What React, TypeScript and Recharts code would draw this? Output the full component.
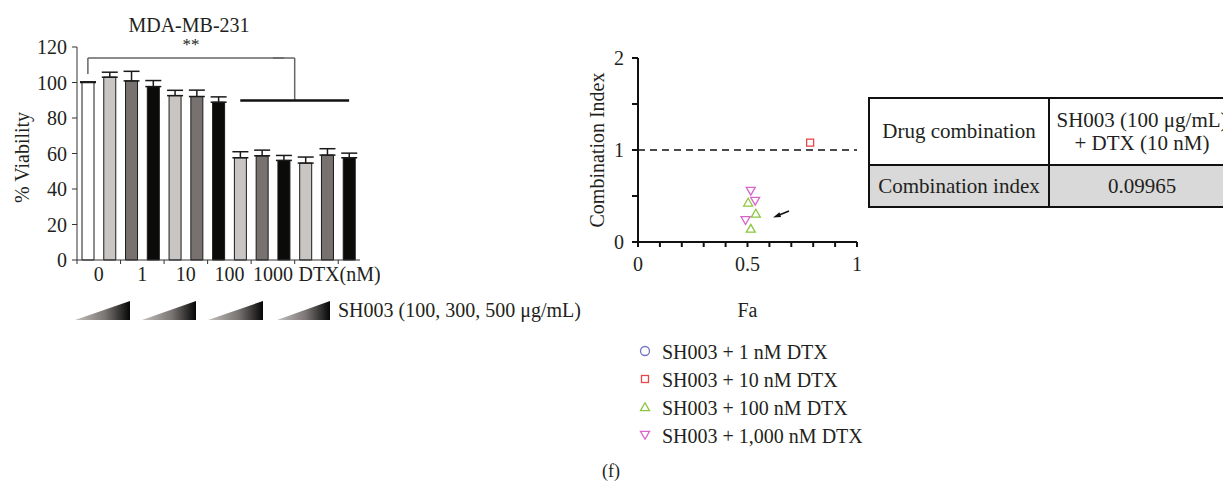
import React from 'react';
import {
  BarChart, Bar, Cell, ErrorBar, XAxis, YAxis, ReferenceLine,
  ScatterChart, Scatter,
} from 'recharts';

const FONT = "'Liberation Serif', 'DejaVu Serif', serif";
const INK = '#231f20';

// viability panel
const barNames = ['ctrl', 'a100', 'a300', 'a500', 'b100', 'b300', 'b500', 'c100', 'c300', 'c500', 'd100', 'd300', 'd500'];
const viability = [100, 103, 100.9, 97.7, 92.6, 92.1, 88.9, 57.6, 58.7, 56.1, 54.6, 59.1, 57.6];
const viabilitySem = [0.4, 2.8, 5.4, 3.4, 3, 3.6, 3, 3.4, 3.2, 2.8, 3.4, 3.6, 2.6];
const barColors = ['#ffffff', '#c9c5c3', '#77716f', '#0b0b09', '#c9c5c3', '#77716f', '#0b0b09', '#c9c5c3', '#77716f', '#0b0b09', '#c9c5c3', '#77716f', '#0b0b09'];
const doseLabels = ['0', '1', '10', '100', '1000', 'DTX(nM)'];
const viabilityTicks = [0, 20, 40, 60, 80, 100, 120];

// combination index panel
const ci1nM: { fa: number; ci: number }[] = [];
const ci10nM = [{ fa: 0.786, ci: 1.08 }];
const ci100nM = [{ fa: 0.503, ci: 0.43 }, { fa: 0.538, ci: 0.31 }, { fa: 0.515, ci: 0.146 }];
const ci1000nM = [{ fa: 0.515, ci: 0.555 }, { fa: 0.535, ci: 0.446 }, { fa: 0.491, ci: 0.236 }];
const faTicks = [0, 0.1, 0.2, 0.3, 0.4, 0.5, 0.6, 0.7, 0.8, 0.9, 1];
const ciTicks = [0, 0.5, 1, 1.5, 2];

const legendItems = [
  { label: 'SH003 + 1 nM DTX', kind: 'circle', color: '#7272c9' },
  { label: 'SH003 + 10 nM DTX', kind: 'square', color: '#e8474a' },
  { label: 'SH003 + 100 nM DTX', kind: 'up', color: '#8cc63f' },
  { label: 'SH003 + 1,000 nM DTX', kind: 'down', color: '#d766c8' },
];

const barData = barNames.map((name, i) => ({
  name,
  v: viability[i],
  err: [0, viabilitySem[i]],
}));

const PLOT_W = 283;
const BAND = PLOT_W / barNames.length;

const VertLabel = (props: any) => {
  const { viewBox, value, cx, dy = 0 } = props;
  const cy = viewBox.y + viewBox.height / 2 + dy;
  return (
    <text x={cx} y={cy} transform={`rotate(-90 ${cx} ${cy})`} textAnchor="middle"
      dominantBaseline="central" fontSize={20} fontFamily={FONT} fill={INK}>
      {value}
    </text>
  );
};

// ticks every two bars, dose labels centred between them
const DoseTick = (props: any) => {
  const { x, y, index } = props;
  const left = x - BAND / 2;
  if (index % 2 === 0) {
    return <line x1={left} y1={y} x2={left} y2={y + 4} stroke="#333" />;
  }
  const lbl = doseLabels[(index - 1) / 2];
  const last = (index - 1) / 2 === doseLabels.length - 1;
  return (
    <text x={last ? left - 18 : left} y={y} dy={21} textAnchor={last ? 'start' : 'middle'}
      fontSize={20} fontFamily={FONT} fill={INK}>
      {lbl}
    </text>
  );
};

const marker = (kind: string, color: string, cx: number, cy: number) => {
  if (kind === 'circle') return <circle cx={cx} cy={cy} r={4.5} fill="none" stroke={color} strokeWidth={1.3} />;
  if (kind === 'square') return <rect x={cx - 3.5} y={cy - 3.5} width={7} height={7} fill="none" stroke={color} strokeWidth={1.3} />;
  if (kind === 'up') return <polygon points={`${cx},${cy - 4.2} ${cx - 4.5},${cy + 3.6} ${cx + 4.5},${cy + 3.6}`} fill="none" stroke={color} strokeWidth={1.3} />;
  return <polygon points={`${cx},${cy + 4.2} ${cx - 4.5},${cy - 3.6} ${cx + 4.5},${cy - 3.6}`} fill="none" stroke={color} strokeWidth={1.3} />;
};

const shapeFor = (kind: string, color: string) => (p: any) => marker(kind, color, p.cx, p.cy);

const txt = (s: React.CSSProperties): React.CSSProperties => ({
  position: 'absolute', fontFamily: FONT, fontSize: 20, color: INK, whiteSpace: 'nowrap', lineHeight: 1, ...s,
});

const wedges = [[75, 130], [142, 196], [208, 263], [277, 330]];

const ViabilityChart = () => (
  <BarChart width={380} height={300} data={barData} margin={{ top: 47, right: 20, bottom: 10, left: 17 }}>
    <XAxis dataKey="name" interval={0} height={30} tickSize={0} tickMargin={0}
      axisLine={{ stroke: '#333' }} tickLine={false} tick={<DoseTick />} />
    <YAxis domain={[0, 120]} ticks={viabilityTicks} interval={0} width={60} tickSize={5} tickMargin={5}
      axisLine={{ stroke: '#333' }} tickLine={{ stroke: '#333' }}
      tick={{ fontSize: 20, fill: INK, fontFamily: FONT }}
      label={<VertLabel value="% Viability" cx={22} dy={4} />} />
    <Bar dataKey="v" barSize={12} stroke="#1a1a1a" strokeWidth={1} isAnimationActive={false}>
      {barData.map((d, i) => <Cell key={d.name} fill={barColors[i]} />)}
      <ErrorBar dataKey="err" width={8} stroke="#1a1a1a" strokeWidth={1.5} direction="y" />
    </Bar>
    {/* significance bracket */}
    <ReferenceLine segment={[{ x: 'ctrl', y: 113.8 }, { x: 'c500', y: 113.8 }]} stroke="#666" strokeWidth={1.5} />
    <ReferenceLine position="end" segment={[{ x: 'c300', y: 113.8 }, { x: 'c500', y: 113.8 }]} stroke="#666" strokeWidth={1.5} />
    <ReferenceLine segment={[{ x: 'ctrl', y: 113.8 }, { x: 'ctrl', y: 104.8 }]} stroke="#666" strokeWidth={1.5} />
    <ReferenceLine position="end" segment={[{ x: 'c500', y: 113.8 }, { x: 'c500', y: 89.8 }]} stroke="#666" strokeWidth={1.5} />
    <ReferenceLine segment={[{ x: 'c100', y: 89.8 }, { x: 'd500', y: 89.8 }]} stroke="#111" strokeWidth={2.5} />
  </BarChart>
);

const CIChart = () => (
  <ScatterChart width={320} height={330} margin={{ top: 58, right: 23, bottom: 8, left: 18 }}>
    <XAxis type="number" dataKey="fa" domain={[0, 1]} ticks={faTicks} interval={0} height={80}
      tickSize={5} tickMargin={10} axisLine={{ stroke: '#111', strokeWidth: 2 }} tickLine={{ stroke: '#111', strokeWidth: 2 }}
      tickFormatter={(v: number) => (v === 0 ? '0' : v === 0.5 ? '0.5' : v === 1 ? '1' : '')}
      tick={{ fontSize: 20, fill: INK, fontFamily: FONT }}
      label={{ value: 'Fa', position: 'insideBottom', offset: 5, fontSize: 20, fill: INK, fontFamily: FONT }} />
    <YAxis type="number" dataKey="ci" domain={[0, 2]} ticks={ciTicks} interval={0} width={60}
      tickSize={6} tickMargin={8} axisLine={{ stroke: '#111', strokeWidth: 2 }} tickLine={{ stroke: '#111', strokeWidth: 2 }}
      tickFormatter={(v: number) => (Number.isInteger(v) ? String(v) : '')}
      tick={{ fontSize: 20, fill: INK, fontFamily: FONT }}
      label={<VertLabel value="Combination Index" cx={37} />} />
    <ReferenceLine y={1} stroke="#111" strokeWidth={1.5} strokeDasharray="7 5" />
    <Scatter data={ci1nM} shape={shapeFor('circle', legendItems[0].color)} isAnimationActive={false} />
    <Scatter data={ci10nM} shape={shapeFor('square', legendItems[1].color)} isAnimationActive={false} />
    <Scatter data={ci100nM} shape={shapeFor('up', legendItems[2].color)} isAnimationActive={false} />
    <Scatter data={ci1000nM} shape={shapeFor('down', legendItems[3].color)} isAnimationActive={false} />
  </ScatterChart>
);

export default function App() {
  return (
    <div style={{ position: 'absolute', left: 0, top: 0, width: 1223, height: 483, background: '#fff', overflow: 'hidden' }}>
      <div style={{ position: 'absolute', left: 0, top: 0 }}><ViabilityChart /></div>
      <div style={txt({ left: 189, top: 15, transform: 'translateX(-50%)' })}>MDA-MB-231</div>
      <div style={txt({ left: 191, top: 36, fontSize: 17, transform: 'translateX(-50%)' })}>**</div>

      <svg style={{ position: 'absolute', left: 0, top: 0 }} width={1223} height={483}>
        <defs>
          <linearGradient id="wedge" x1="0" y1="0" x2="1" y2="0">
            <stop offset="0" stopColor="#c4c1bf" />
            <stop offset="0.55" stopColor="#7a7573" />
            <stop offset="1" stopColor="#060606" />
          </linearGradient>
        </defs>
        {wedges.map(([a, b]) => (
          <polygon key={a} points={`${a},320 ${b},301 ${b},320`} fill="url(#wedge)" />
        ))}
        {/* arrow pointing at the synergy points */}
        <line x1={789} y1={211} x2={778} y2={215.5} stroke="#111" strokeWidth={1.6} />
        <polygon points="773,217.5 779.5,212.2 781,217" fill="#111" />
        {legendItems.map((it, i) => <g key={it.label}>{marker(it.kind, it.color, 645, 351 + i * 28)}</g>)}
      </svg>
      <div style={txt({ left: 338, top: 300 })}>SH003 (100, 300, 500 μg/mL)</div>

      <div style={{ position: 'absolute', left: 560, top: 0 }}><CIChart /></div>

      {legendItems.map((it, i) => (
        <div key={it.label} style={txt({ left: 662, top: 342 + i * 28 })}>{it.label}</div>
      ))}

      <table style={{
        position: 'absolute', left: 868, top: 97, borderCollapse: 'collapse', fontFamily: FONT,
        fontSize: 21, color: INK, tableLayout: 'fixed', width: 358,
      }}>
        <tbody>
          <tr style={{ height: 67 }}>
            <td style={{ width: 176, border: '2px solid #111', textAlign: 'center', lineHeight: '23px' }}>Drug combination</td>
            <td style={{ width: 182, border: '2px solid #111', textAlign: 'center', lineHeight: '23px' }}>
              SH003 (100 μg/mL)<br />+ DTX (10 nM)
            </td>
          </tr>
          <tr style={{ height: 42, background: '#d9d9d9' }}>
            <td style={{ border: '2px solid #111', textAlign: 'center' }}>Combination index</td>
            <td style={{ border: '2px solid #111', textAlign: 'center' }}>0.09965</td>
          </tr>
        </tbody>
      </table>

      <div style={txt({ left: 611, top: 462, fontSize: 18, transform: 'translateX(-50%)' })}>(f)</div>
    </div>
  );
}
